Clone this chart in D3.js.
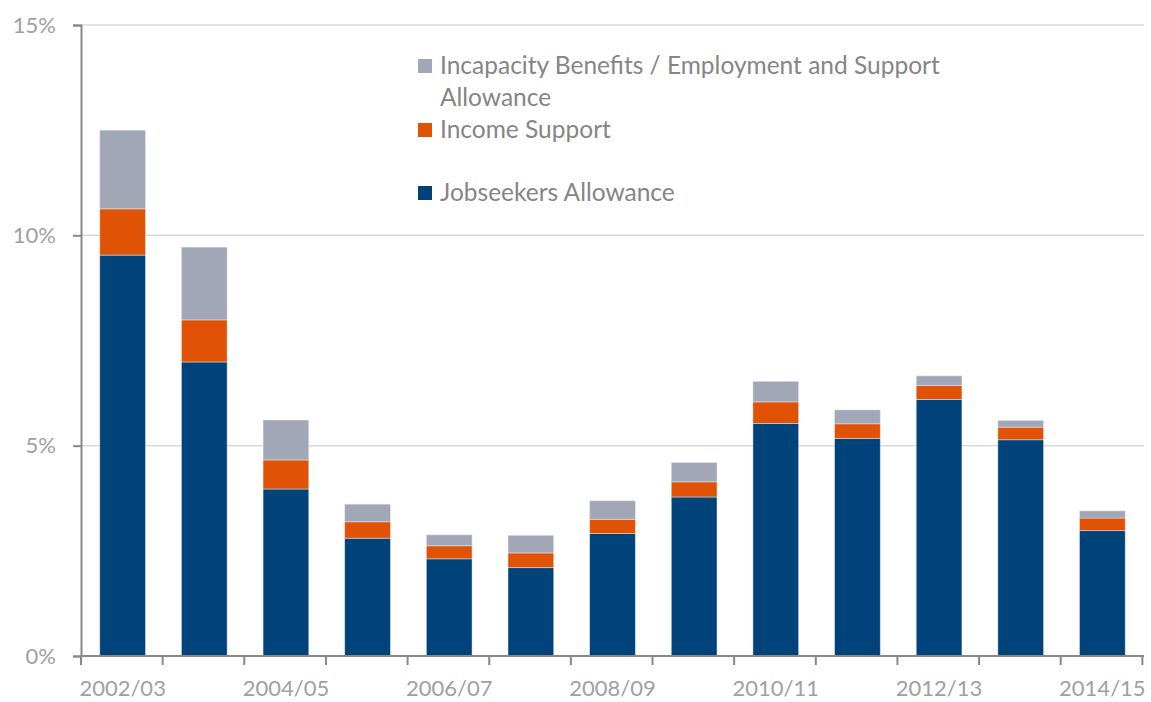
<!DOCTYPE html>
<html>
<head>
<meta charset="utf-8">
<script src="https://cdn.jsdelivr.net/npm/d3@7"></script>
<style>
  body { margin: 0; background: #fff; }
  svg text { font-family: Lato, "Open Sans", sans-serif; }
</style>
</head>
<body>
<svg id="chart" width="1151" height="702"></svg>
<script>
var years = ['2002/03', '2003/04', '2004/05', '2005/06', '2006/07', '2007/08', '2008/09',
             '2009/10', '2010/11', '2011/12', '2012/13', '2013/14', '2014/15'];
// share of claimants, percent
var jobseekers = [9.53, 6.99, 3.97, 2.80, 2.31, 2.10, 2.91, 3.78, 5.53, 5.17, 6.10, 5.14, 2.98];
var incomeSupport = [1.10, 1.00, 0.69, 0.39, 0.31, 0.35, 0.34, 0.36, 0.51, 0.35, 0.33, 0.30, 0.30];
var incapacity = [1.87, 1.73, 0.95, 0.42, 0.26, 0.42, 0.44, 0.46, 0.49, 0.33, 0.23, 0.16, 0.17];
var yTicks = [0, 5, 10, 15];
var labelYears = ['2002/03', '2004/05', '2006/07', '2008/09', '2010/11', '2012/13', '2014/15'];

var seriesKeys = ['jsa', 'is', 'ib'];
var colors = { jsa: '#00427a', is: '#e05206', ib: '#a2a7b8' };

var rows = years.map(function (y, i) {
  return { year: y, jsa: jobseekers[i], is: incomeSupport[i], ib: incapacity[i] };
});

var svg = d3.select('#chart');
var margin = { left: 81, right: 7, top: 25, bottom: 46 };
var width = 1151 - margin.left - margin.right,
    height = 702 - margin.top - margin.bottom;

var g = svg.append('g').attr('transform', 'translate(' + margin.left + ',' + margin.top + ')');

var x = d3.scaleBand().domain(years).range([0, width]).paddingInner(0.44).paddingOuter(0.23);
var y = d3.scaleLinear().domain([0, 15]).range([height, 0]);

// gridlines
g.selectAll('.grid')
  .data(yTicks.filter(function (t) { return t > 0; }))
  .enter().append('line')
  .attr('x1', 0).attr('x2', width)
  .attr('y1', function (d) { return y(d); })
  .attr('y2', function (d) { return y(d); })
  .attr('stroke', '#d9d9d9')
  .attr('stroke-width', 1.5);

var stack = d3.stack().keys(seriesKeys)(rows);

g.selectAll('.series')
  .data(stack)
  .enter().append('g')
  .attr('fill', function (d) { return colors[d.key]; })
  .selectAll('rect')
  .data(function (d) { return d; })
  .enter().append('rect')
  .attr('x', function (d) { return x(d.data.year); })
  .attr('width', x.bandwidth())
  .attr('y', function (d) { return y(d[1]); })
  .attr('height', function (d) { return y(d[0]) - y(d[1]); })
  .attr('stroke', '#e8ecf2')
  .attr('stroke-opacity', 0.6)
  .attr('stroke-width', 0.8);

// y axis
var yAxis = g.append('g')
  .call(d3.axisLeft(y).tickValues(yTicks).tickFormat(function (d) { return d + '%'; }).tickSize(8).tickPadding(17));
yAxis.select('.domain').attr('stroke', '#888').attr('stroke-width', 2);
yAxis.selectAll('.tick line').attr('stroke', '#888').attr('stroke-width', 2);
yAxis.selectAll('.tick text').attr('fill', '#a0a0a0').style('font-size', '22px');

// x axis: ticks at category boundaries, labels every other year
var xb = g.append('g').attr('transform', 'translate(0,' + height + ')');
xb.append('line').attr('x1', 0).attr('x2', width).attr('stroke', '#888').attr('stroke-width', 2);
var step = x.step();
xb.selectAll('.xtick')
  .data(d3.range(years.length + 1))
  .enter().append('line')
  .attr('x1', function (i) { return i * step; })
  .attr('x2', function (i) { return i * step; })
  .attr('y1', 0).attr('y2', 9)
  .attr('stroke', '#888').attr('stroke-width', 2);
xb.selectAll('.xlabel')
  .data(labelYears)
  .enter().append('text')
  .attr('x', function (d) { return x(d) + x.bandwidth() / 2; })
  .attr('y', 40)
  .attr('text-anchor', 'middle')
  .attr('fill', '#a0a0a0')
  .style('font-size', '22px')
  .text(function (d) { return d; });

// legend
var legendItems = [
  { key: 'ib', lines: ['Incapacity Benefits / Employment and Support', 'Allowance'], y: 66 },
  { key: 'is', lines: ['Income Support'], y: 130 },
  { key: 'jsa', lines: ['Jobseekers Allowance'], y: 193 }
];
var legend = svg.append('g');
var li = legend.selectAll('.leg').data(legendItems).enter().append('g');
li.append('rect')
  .attr('x', 418).attr('y', function (d) { return d.y - 7; })
  .attr('width', 14).attr('height', 14)
  .attr('fill', function (d) { return colors[d.key]; });
li.append('text')
  .attr('x', 440)
  .attr('y', function (d) { return d.y + 8; })
  .attr('fill', '#858585')
  .style('font-size', '24.5px')
  .selectAll('tspan')
  .data(function (d) { return d.lines; })
  .enter().append('tspan')
  .attr('x', 440)
  .attr('dy', function (d, i) { return i === 0 ? 0 : 32; })
  .text(function (d) { return d; });
</script>
</body>
</html>
